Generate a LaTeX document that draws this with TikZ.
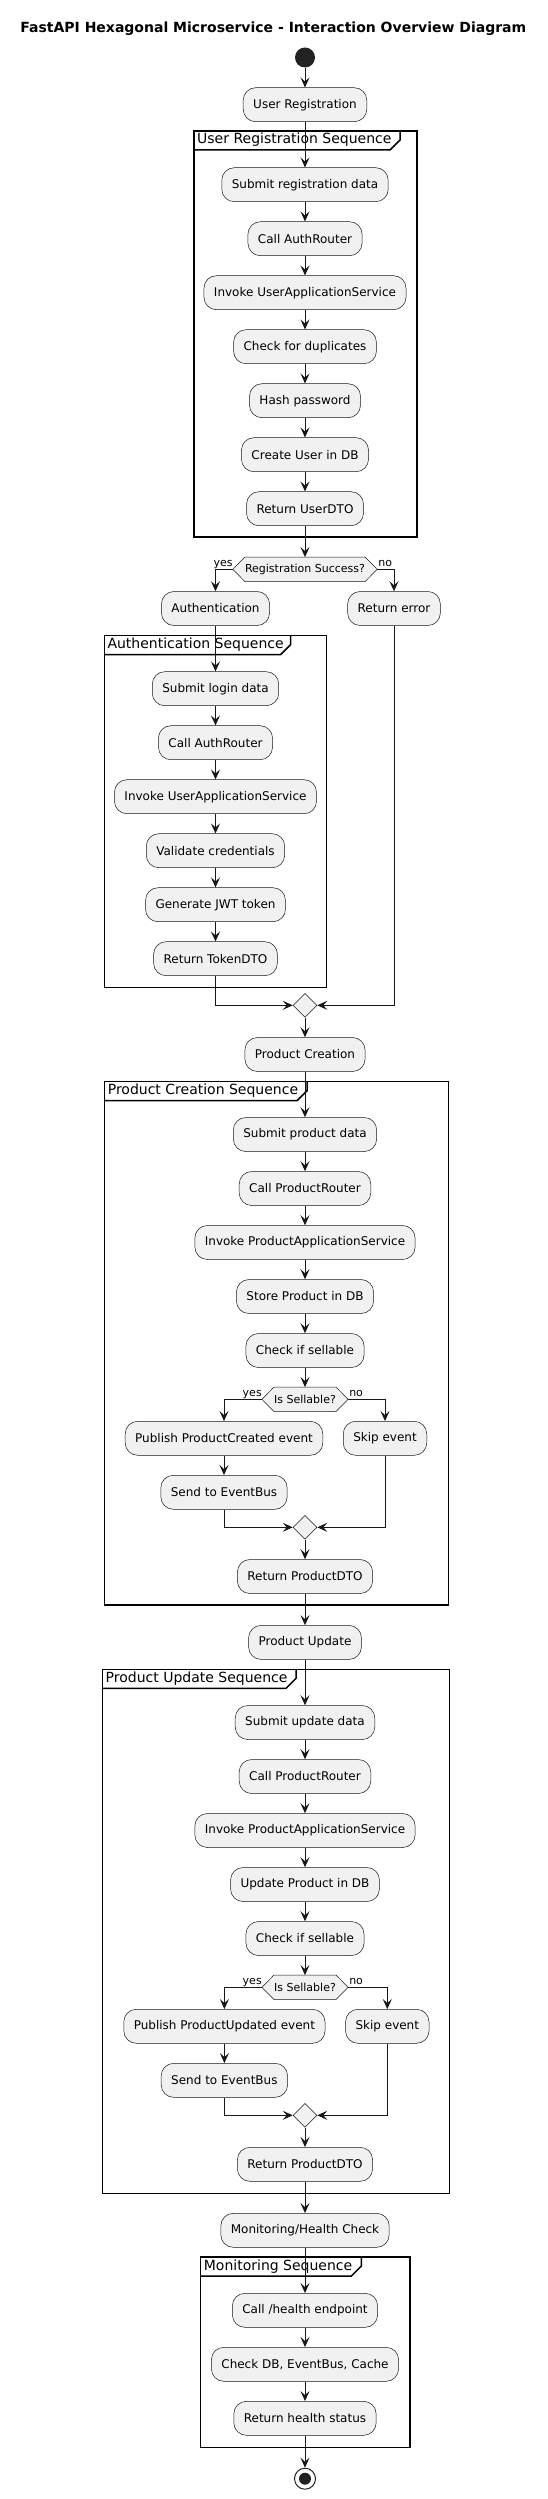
\documentclass[tikz,border=0pt]{standalone}
\usepackage{fontspec}
\setmainfont{DejaVu Sans}
\usetikzlibrary{arrows.meta,calc,shapes.geometric,backgrounds}
\definecolor{boxfill}{HTML}{F1F1F1}
\definecolor{ink}{HTML}{181818}
\definecolor{dotc}{HTML}{222222}
\tikzset{
  act/.style={draw=ink, line width=0.5pt, fill=boxfill, rounded corners=12.5pt,
    minimum height=34pt, inner xsep=10pt, inner ysep=0pt,
    font=\fontsize{12}{14}\selectfont, text=black},
  dectext/.style={inner xsep=0pt, inner ysep=0pt, minimum height=24pt,
    font=\fontsize{11}{13}\selectfont, text=black},
  decshape/.style={draw=ink, line width=0.5pt, fill=boxfill},
  merge/.style={diamond, draw=ink, line width=0.5pt, fill=boxfill, inner sep=0pt,
    minimum width=24pt, minimum height=24pt},
  arr/.style={draw=ink, line width=1pt, -{Stealth[length=10pt,width=9pt,inset=4pt]}},
  frm/.style={draw=black, line width=1.5pt},
  ftitle/.style={inner sep=0pt, font=\fontsize{14}{16}\selectfont, text=black},
  lbl/.style={inner sep=0pt, font=\fontsize{11}{13}\selectfont, text=black},
}
\newcommand{\decnode}[4]{%
  \node[dectext] (#1) at (#2,#3) {#4};
  \coordinate (#1l) at ($(#1.west)+(-12pt,0pt)$);
  \coordinate (#1r) at ($(#1.east)+(12pt,0pt)$);
  \begin{scope}[on background layer]
    \draw[decshape] (#1l) -- (#1.north west) -- (#1.north east) -- (#1r)
      -- (#1.south east) -- (#1.south west) -- cycle;
  \end{scope}
  \node[lbl, anchor=base east] (#1yes) at ($(#1l)+(0pt,3pt)$) {yes};
  \node[lbl, anchor=base west] (#1no) at ($(#1r)+(1pt,3pt)$) {no};
}
\newcommand{\seqframe}[7]{%
  \draw[frm] (#2,#3) rectangle (#4,#5);
  \node[ftitle, anchor=base west] (#1) at (#2+3,#3+13) {#7};
  \draw[frm, line join=miter] (#2,#3+19) -- (#6-10,#3+19) -- (#6,#3+9) -- (#6,#3);
}
\begin{document}
\begin{tikzpicture}[x=1pt,y=-1pt]
\useasboundingbox (0,0) rectangle (548,2499);
\begin{scope}[on background layer]
\fill[white] (0,0) rectangle (548,2499);
\end{scope}

\node[font=\bfseries\fontsize{14}{16}\selectfont] (title) at (273.3,28.3)
  {FastAPI Hexagonal Microservice - Interaction Overview Diagram};

% frames
\seqframe{ft1}{194}{131}{417.2}{537}{400}{User Registration Sequence}
\seqframe{ft2}{104.3}{635.5}{326.7}{987.3}{290.7}{Authentication Sequence}
\seqframe{ft3}{104.6}{1081.7}{448.4}{1605}{307}{Product Creation Sequence}
\seqframe{ft4}{102.5}{1669.3}{449.5}{2193.3}{296}{Product Update Sequence}
\seqframe{ft5}{200.7}{2257}{410.2}{2447.3}{361.4}{Monitoring Sequence}

% nodes
\node[circle, fill=dotc, minimum size=20pt, inner sep=0pt] (start) at (305,57.5) {};
\node[act] (ur) at (305,104.7) {User Registration};
\node[act] (s1) at (305,184.7) {Submit registration data};
\node[act] (s2) at (305,238.7) {Call AuthRouter};
\node[act] (s3) at (305,292.7) {Invoke UserApplicationService};
\node[act] (s4) at (305,346.7) {Check for duplicates};
\node[act] (s5) at (305,400.7) {Hash password};
\node[act] (s6) at (305,454.7) {Create User in DB};
\node[act] (s7) at (305,508.7) {Return UserDTO};
\decnode{d1}{305}{569.3}{Registration Success?}
\node[act] (auth) at (215.5,608.5) {Authentication};
\node[act] (rerr) at (394,608.5) {Return error};
\node[act] (a1) at (215.5,688.7) {Submit login data};
\node[act] (a2) at (215.5,742.7) {Call AuthRouter};
\node[act] (a3) at (215.5,796.7) {Invoke UserApplicationService};
\node[act] (a4) at (215.5,850.7) {Validate credentials};
\node[act] (a5) at (215.5,904.7) {Generate JWT token};
\node[act] (a6) at (215.5,958.7) {Return TokenDTO};
\node[merge] (m1) at (305,1005.3) {};
\node[act] (pc) at (305,1054.5) {Product Creation};
\node[act] (c1) at (305,1134.5) {Submit product data};
\node[act] (c2) at (305,1188.5) {Call ProductRouter};
\node[act] (c3) at (305,1242.5) {Invoke ProductApplicationService};
\node[act] (c4) at (305,1296.5) {Store Product in DB};
\node[act] (c5) at (305,1350.5) {Check if sellable};
\decnode{d2}{305}{1399.3}{Is Sellable?}
\node[act] (c6) at (224,1438.3) {Publish ProductCreated event};
\node[act] (c7) at (385,1438.3) {Skip event};
\node[act] (c8) at (224,1492.3) {Send to EventBus};
\node[merge] (m2) at (305,1527.3) {};
\node[act] (c9) at (305,1576.5) {Return ProductDTO};
\node[act] (pu) at (305,1642.4) {Product Update};
\node[act] (u1) at (305,1722.5) {Submit update data};
\node[act] (u2) at (305,1776.5) {Call ProductRouter};
\node[act] (u3) at (305,1830.5) {Invoke ProductApplicationService};
\node[act] (u4) at (305,1884.5) {Update Product in DB};
\node[act] (u5) at (305,1938.5) {Check if sellable};
\decnode{d3}{305}{1987.3}{Is Sellable?}
\node[act] (u6) at (224.4,2026.3) {Publish ProductUpdated event};
\node[act] (u7) at (387.3,2026.3) {Skip event};
\node[act] (u8) at (224.4,2080.3) {Send to EventBus};
\node[merge] (m3) at (305,2115.3) {};
\node[act] (u9) at (305,2164.3) {Return ProductDTO};
\node[act] (mh) at (305,2230.3) {Monitoring/Health Check};
\node[act] (h1) at (305,2310.3) {Call /health endpoint};
\node[act] (h2) at (305,2364.3) {Check DB, EventBus, Cache};
\node[act] (h3) at (305,2418.3) {Return health status};
\node[circle, draw=dotc, line width=1pt, fill=white, minimum size=21pt, inner sep=0pt] (end) at (305,2478.7) {};
\node[circle, fill=dotc, minimum size=12pt, inner sep=0pt] (endin) at (end.center) {};

% connectors
\draw[arr] (start) -- (ur);
\draw[arr] (ur) -- (s1);
\draw[arr] (s1) -- (s2);
\draw[arr] (s2) -- (s3);
\draw[arr] (s3) -- (s4);
\draw[arr] (s4) -- (s5);
\draw[arr] (s5) -- (s6);
\draw[arr] (s6) -- (s7);
\draw[arr] (s7) -- (d1);
\draw[arr] (d1l) -| (auth);
\draw[arr] (d1r) -| (rerr);
\draw[arr] (auth) -- (a1);
\draw[arr] (a1) -- (a2);
\draw[arr] (a2) -- (a3);
\draw[arr] (a3) -- (a4);
\draw[arr] (a4) -- (a5);
\draw[arr] (a5) -- (a6);
\draw[arr] (a6) |- (m1);
\draw[arr] (rerr) |- (m1);
\draw[arr] (m1) -- (pc);
\draw[arr] (pc) -- (c1);
\draw[arr] (c1) -- (c2);
\draw[arr] (c2) -- (c3);
\draw[arr] (c3) -- (c4);
\draw[arr] (c4) -- (c5);
\draw[arr] (c5) -- (d2);
\draw[arr] (d2l) -| (c6);
\draw[arr] (d2r) -| (c7);
\draw[arr] (c6) -- (c8);
\draw[arr] (c8) |- (m2);
\draw[arr] (c7) |- (m2);
\draw[arr] (m2) -- (c9);
\draw[arr] (c9) -- (pu);
\draw[arr] (pu) -- (u1);
\draw[arr] (u1) -- (u2);
\draw[arr] (u2) -- (u3);
\draw[arr] (u3) -- (u4);
\draw[arr] (u4) -- (u5);
\draw[arr] (u5) -- (d3);
\draw[arr] (d3l) -| (u6);
\draw[arr] (d3r) -| (u7);
\draw[arr] (u6) -- (u8);
\draw[arr] (u8) |- (m3);
\draw[arr] (u7) |- (m3);
\draw[arr] (m3) -- (u9);
\draw[arr] (u9) -- (mh);
\draw[arr] (mh) -- (h1);
\draw[arr] (h1) -- (h2);
\draw[arr] (h2) -- (h3);
\draw[arr] (h3) -- (end);
\end{tikzpicture}
\end{document}
